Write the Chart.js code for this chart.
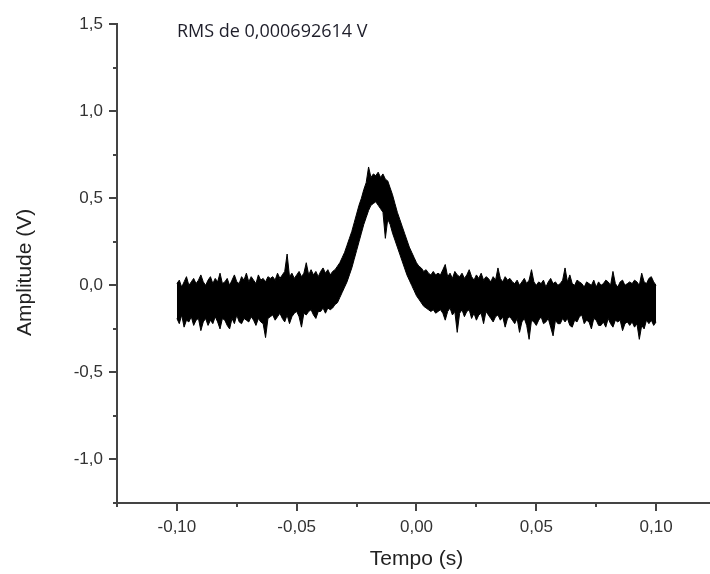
<!DOCTYPE html>
<html>
<head>
<meta charset="utf-8">
<script src="https://cdn.jsdelivr.net/npm/chart.js@4.4.0/dist/chart.umd.min.js"></script>
<style>
  html, body { margin: 0; padding: 0; background: #fff; }
  #wrap { width: 710px; height: 574px; }
</style>
</head>
<body>
<div id="wrap"><canvas id="sinal"></canvas></div>
<script>
// sample clock of the scope trace
const T_START = -0.1;
const T_STEP = 0.001;

// the noisy trace is so dense it reads as a band: top edge (V) per sample...
const upper = [
  0.01, 0.03, -0.01, 0.02, 0.05, 0.00, 0.02, 0.04, 0.01, 0.03,
  0.06, 0.02, 0.00, 0.03, 0.05, 0.01, 0.04, 0.02, 0.07, 0.01,
  0.02, 0.04, 0.00, 0.03, 0.06, 0.02, 0.01, 0.05, 0.03, 0.07,
  0.02, 0.05, 0.03, 0.01, 0.06, 0.03, 0.04, 0.02, 0.05, 0.04,
  0.05, 0.03, 0.07, 0.04, 0.06, 0.08, 0.18, 0.05, 0.07, 0.04,
  0.06, 0.08, 0.05, 0.07, 0.13, 0.06, 0.09, 0.06, 0.08, 0.05,
  0.08, 0.10, 0.07, 0.09, 0.06, 0.08, 0.09, 0.11, 0.13, 0.16,
  0.19, 0.23, 0.27, 0.31, 0.36, 0.41, 0.46, 0.50, 0.55, 0.59,
  0.68, 0.62, 0.64, 0.63, 0.65, 0.62, 0.64, 0.61, 0.60, 0.56,
  0.52, 0.47, 0.42, 0.38, 0.34, 0.30, 0.26, 0.22, 0.19, 0.16,
  0.13, 0.11, 0.10, 0.08, 0.09, 0.07, 0.06, 0.08, 0.06, 0.07,
  0.06, 0.09, 0.12, 0.05, 0.07, 0.04, 0.08, 0.06, 0.05, 0.07,
  0.04, 0.06, 0.09, 0.05, 0.03, 0.06, 0.04, 0.07, 0.03, 0.05,
  0.04, 0.02, 0.05, 0.03, 0.10, 0.04, 0.02, 0.05, 0.03, 0.04,
  0.02, 0.01, 0.03, 0.00, 0.02, 0.04, 0.01, 0.03, 0.09, 0.02,
  0.00, 0.02, 0.01, 0.03, -0.01, 0.02, 0.04, 0.01, 0.02, 0.00,
  0.01, 0.03, 0.10, 0.02, 0.06, 0.01, 0.00, 0.03, 0.02, 0.01,
  -0.01, 0.02, 0.01, 0.00, 0.03, -0.01, 0.02, 0.00, 0.01, 0.03,
  0.02, 0.00, 0.08, 0.01, -0.01, 0.02, 0.03, 0.00, 0.01, 0.02,
  0.01, 0.03, 0.02, 0.00, 0.07, 0.02, 0.01, 0.04, 0.05, 0.02, 0.00
];

// ...and bottom edge (V) per sample
const lower = [
  -0.19, -0.22, -0.17, -0.24, -0.20, -0.21, -0.18, -0.23, -0.20, -0.19,
  -0.26, -0.21, -0.19, -0.23, -0.20, -0.22, -0.18, -0.21, -0.25, -0.19,
  -0.20, -0.23, -0.25, -0.19, -0.22, -0.17, -0.21, -0.22, -0.19, -0.20,
  -0.21, -0.18, -0.20, -0.23, -0.19, -0.21, -0.22, -0.30, -0.19, -0.18,
  -0.17, -0.20, -0.18, -0.16, -0.19, -0.21, -0.17, -0.22, -0.18, -0.16,
  -0.15, -0.18, -0.24, -0.16, -0.17, -0.15, -0.14, -0.17, -0.19, -0.15,
  -0.15, -0.13, -0.16, -0.13, -0.14, -0.13, -0.11, -0.10, -0.07, -0.04,
  -0.01, 0.02, 0.06, 0.10, 0.15, 0.20, 0.25, 0.30, 0.35, 0.39,
  0.43, 0.46, 0.47, 0.48, 0.46, 0.44, 0.42, 0.27, 0.38, 0.35,
  0.30, 0.26, 0.22, 0.18, 0.14, 0.10, 0.06, 0.03, 0.00, -0.03,
  -0.06, -0.08, -0.10, -0.12, -0.13, -0.14, -0.15, -0.14, -0.16, -0.15,
  -0.14, -0.16, -0.20, -0.15, -0.13, -0.17, -0.15, -0.27, -0.16, -0.14,
  -0.18, -0.15, -0.14, -0.19, -0.16, -0.20, -0.17, -0.16, -0.22, -0.15,
  -0.17, -0.19, -0.21, -0.18, -0.17, -0.20, -0.18, -0.24, -0.19, -0.18,
  -0.20, -0.22, -0.19, -0.27, -0.21, -0.19, -0.23, -0.31, -0.20, -0.21,
  -0.23, -0.20, -0.18, -0.22, -0.21, -0.19, -0.24, -0.29, -0.20, -0.22,
  -0.22, -0.19, -0.21, -0.19, -0.23, -0.24, -0.20, -0.21, -0.18, -0.17,
  -0.22, -0.20, -0.21, -0.25, -0.19, -0.20, -0.23, -0.23, -0.21, -0.24,
  -0.19, -0.22, -0.24, -0.20, -0.21, -0.20, -0.26, -0.22, -0.21, -0.23,
  -0.21, -0.24, -0.22, -0.31, -0.23, -0.25, -0.20, -0.22, -0.20, -0.23, -0.21
];

// ticks (labelled ones and the small ones between)
const xMajor = [-0.10, -0.05, 0.00, 0.05, 0.10];
const xMinor = [-0.125, -0.075, -0.025, 0.025, 0.075];
const yMajor = [-1.0, -0.5, 0.0, 0.5, 1.0, 1.5];
const yMinor = [-1.25, -0.75, -0.25, 0.25, 0.75, 1.25];

const rmsLabel = 'RMS de 0,000692614 V';
const rmsAt = { x: -0.1, y: 1.455 };
const xTitle = 'Tempo (s)';
const yTitle = 'Amplitude (V)';

const AXIS_COLOR = '#444';
const TEXT_COLOR = '#333';
const FONT = 'Liberation Sans, Arial, sans-serif';

const toPoints = arr => arr.map((v, i) => ({ x: T_START + i * T_STEP, y: v }));

const isIn = (list, v) => list.some(m => Math.abs(m - v) < 1e-9);
const virgula = (v, d) => v.toFixed(d).replace('.', ',');

// petits traits des graduations (vers l'extérieur), titres des axes et annotation RMS
const axisDecor = {
  id: 'axisDecor',
  afterDraw(chart) {
    const { ctx, chartArea, scales } = chart;
    ctx.save();
    ctx.strokeStyle = AXIS_COLOR;
    ctx.lineWidth = 2;
    scales.x.ticks.forEach(t => {
      const px = Math.round(scales.x.getPixelForValue(t.value));
      const len = isIn(xMajor, t.value) ? 8 : 4;
      ctx.beginPath();
      ctx.moveTo(px, chartArea.bottom);
      ctx.lineTo(px, chartArea.bottom + len);
      ctx.stroke();
    });
    scales.y.ticks.forEach(t => {
      const py = Math.round(scales.y.getPixelForValue(t.value));
      const len = isIn(yMajor, t.value) ? 8 : 4;
      ctx.beginPath();
      ctx.moveTo(chartArea.left, py);
      ctx.lineTo(chartArea.left - len, py);
      ctx.stroke();
    });

    // titres des axes
    ctx.fillStyle = '#222';
    ctx.font = '21px ' + FONT;
    ctx.textAlign = 'center';
    ctx.textBaseline = 'middle';
    ctx.fillText(xTitle, scales.x.getPixelForValue(0), chart.height - 15);
    ctx.save();
    ctx.translate(scales.y.left + 25, scales.y.getPixelForValue(0.075));
    ctx.rotate(-Math.PI / 2);
    ctx.fillText(yTitle, 0, 0);
    ctx.restore();

    // annotation RMS
    ctx.fillStyle = '#1e1e2a';
    ctx.font = '18px "Open Sans", sans-serif';
    ctx.textAlign = 'left';
    ctx.fillText(rmsLabel, scales.x.getPixelForValue(rmsAt.x), scales.y.getPixelForValue(rmsAt.y));
    ctx.restore();
  }
};

new Chart(document.getElementById('sinal'), {
  type: 'line',
  data: {
    datasets: [
      {
        data: toPoints(upper),
        borderColor: '#000',
        borderWidth: 1,
        pointRadius: 0,
        tension: 0,
        fill: false
      },
      {
        data: toPoints(lower),
        borderColor: '#000',
        backgroundColor: '#000',
        borderWidth: 1,
        pointRadius: 0,
        tension: 0,
        fill: '-1' // bande pleine entre les deux bords
      }
    ]
  },
  options: {
    responsive: true,
    maintainAspectRatio: false,
    animation: false,
    layout: { padding: { top: 18, right: 0, bottom: 0, left: 0 } },
    plugins: { legend: { display: false }, tooltip: { enabled: false } },
    scales: {
      x: {
        type: 'linear',
        min: -0.125,
        max: 0.1225,
        afterBuildTicks: s => { s.ticks = [...xMajor, ...xMinor].sort((a, b) => a - b).map(v => ({ value: v })); },
        afterFit: s => { s.height = 71; },
        grid: { drawOnChartArea: false, drawTicks: false },
        border: { color: AXIS_COLOR, width: 2 },
        ticks: {
          padding: 14,
          color: TEXT_COLOR,
          font: { family: FONT, size: 17 },
          autoSkip: false,
          maxRotation: 0,
          callback: v => isIn(xMajor, v) ? virgula(v, 2) : ''
        }
      },
      y: {
        min: -1.25,
        max: 1.5,
        afterBuildTicks: s => { s.ticks = [...yMajor, ...yMinor].sort((a, b) => a - b).map(v => ({ value: v })); },
        afterFit: s => { s.width = 117; },
        grid: { drawOnChartArea: false, drawTicks: false },
        border: { color: AXIS_COLOR, width: 2 },
        ticks: {
          padding: 14,
          color: TEXT_COLOR,
          font: { family: FONT, size: 17 },
          autoSkip: false,
          callback: v => isIn(yMajor, v) ? virgula(v, 1) : ''
        }
      }
    }
  },
  plugins: [axisDecor]
});
</script>
</body>
</html>
